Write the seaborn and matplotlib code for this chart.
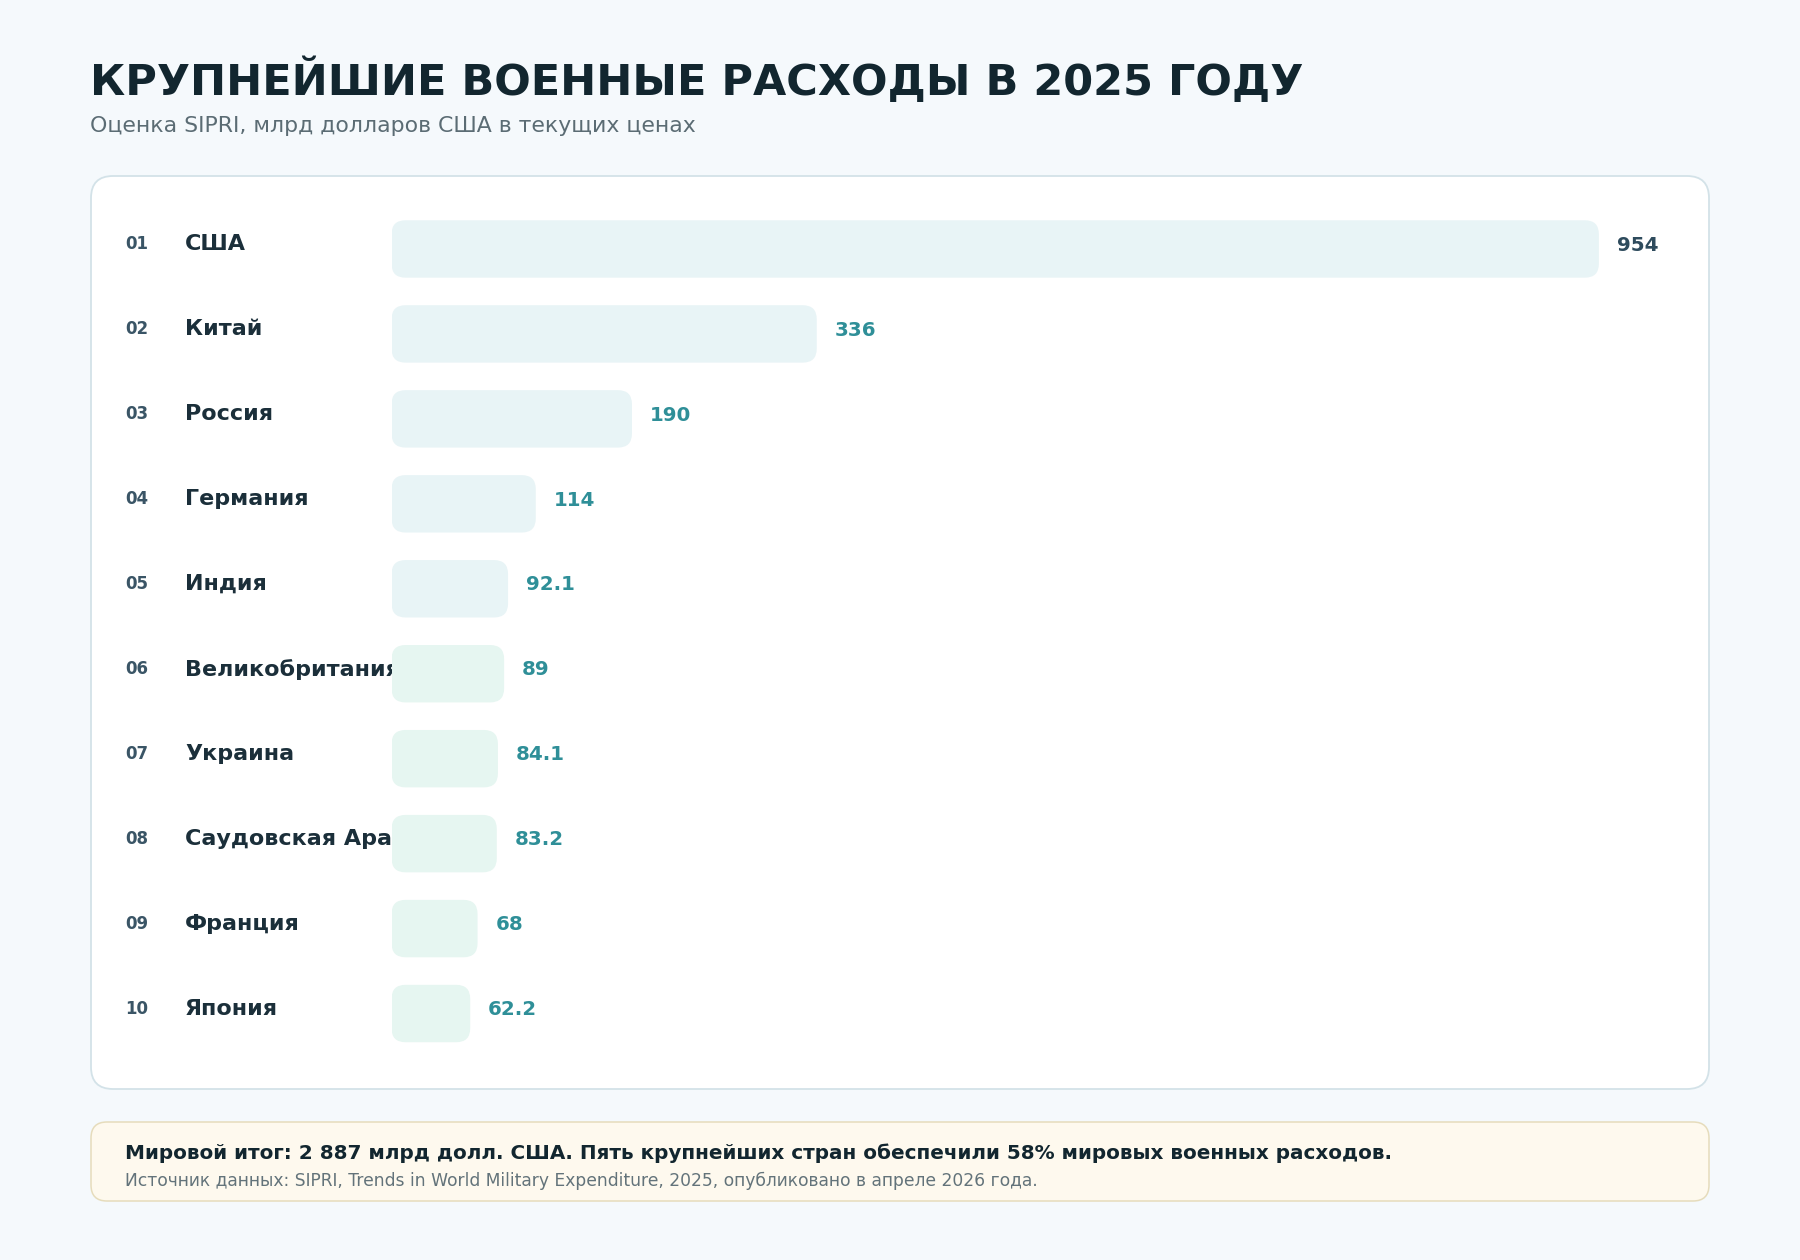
import matplotlib
matplotlib.use("Agg")
import matplotlib.pyplot as plt
import matplotlib.transforms as mtransforms
from matplotlib.patches import FancyBboxPatch, Rectangle
import seaborn as sns
import pandas as pd

ranks = ["01", "02", "03", "04", "05", "06", "07", "08", "09", "10"]
countries = ["США", "Китай", "Россия", "Германия", "Индия",
             "Великобритания", "Украина", "Саудовская Аравия", "Франция", "Япония"]
values = [954, 336, 190, 114, 92.1, 89, 84.1, 83.2, 68, 62.2]
groups = ["a", "a", "a", "a", "a", "b", "b", "b", "b", "b"]

title = "КРУПНЕЙШИЕ ВОЕННЫЕ РАСХОДЫ В 2025 ГОДУ"
subtitle = "Оценка SIPRI, млрд долларов США в текущих ценах"
note = "Мировой итог: 2 887 млрд долл. США. Пять крупнейших стран обеспечили 58% мировых военных расходов."
source = "Источник данных: SIPRI, Trends in World Military Expenditure, 2025, опубликовано в апреле 2026 года."

df = pd.DataFrame({"rank": ranks, "country": countries, "value": values, "group": groups})

sns.set_theme(style="white")
plt.rcParams["font.family"] = ["DejaVu Sans"]

BG = "#f5f9fc"
DARK = "#12262f"
NAME = "#1b2f3a"
RANK = "#3a5566"
TEAL = "#2f8f98"

W, H = 1800, 1260
fig = plt.figure(figsize=(18, 12.6), dpi=100, facecolor=BG)

# background layer in pixel coordinates
bg = fig.add_axes([0, 0, 1, 1], zorder=0)
bg.set_xlim(0, W)
bg.set_ylim(H, 0)
bg.axis("off")

card = FancyBboxPatch((91, 176), 1618, 913, boxstyle="round,pad=0,rounding_size=22",
                      facecolor="white", edgecolor="#d3e2e8", linewidth=1.3)
bg.add_patch(card)
foot = FancyBboxPatch((91, 1122), 1618, 79, boxstyle="round,pad=0,rounding_size=16",
                      facecolor="#fef9ee", edgecolor="#e6dcbc", linewidth=1.1)
bg.add_patch(foot)

bg.text(90, 81, title, fontsize=31, fontweight="bold", color=DARK, va="center", ha="left")
bg.text(90, 126, subtitle, fontsize=15.85, color="#5b6c74", va="center", ha="left")
bg.text(125, 1153, note, fontsize=14.4, fontweight="bold", color=DARK, va="center", ha="left")
bg.text(125, 1181, source, fontsize=12.3, color="#63737a", va="center", ha="left")

# bar area
left_px, right_px = 391.5, 1709
top_px, bot_px = 206.5, 1056
ax = fig.add_axes([left_px / W, 1 - bot_px / H, (right_px - left_px) / W, (bot_px - top_px) / H],
                  zorder=2)
ax.patch.set_alpha(0)

palette = {"a": "#e8f4f6", "b": "#e6f6f1"}
sns.barplot(data=df, x="value", y="country", hue="group", palette=palette, orient="h",
            width=0.676, legend=False, saturation=1, ax=ax)
ax.set_xlim(0, 1041)
ax.set_ylim(9.5, -0.5)
ax.axis("off")

# rounded bars built from seaborn's rectangles
px_per_x = (right_px - left_px) / 1041
px_per_y = (bot_px - top_px) / 10
r_px = 14
for bar in list(ax.patches):
    x0, y0 = bar.get_x(), bar.get_y()
    w, h = bar.get_width(), bar.get_height()
    fc = bar.get_facecolor()
    bar.remove()
    ax.add_patch(FancyBboxPatch((x0, y0), w, h,
                                boxstyle=f"round,pad=0,rounding_size={r_px / px_per_x}",
                                mutation_aspect=(1 / px_per_y) / (1 / px_per_x),
                                facecolor=fc, edgecolor="none", zorder=2))

# labels: x in pixels, y in row units
row_tf = mtransforms.blended_transform_factory(bg.transData, ax.transData)
clip = Rectangle((0, 0), left_px, H, transform=bg.transData)
dy = -0.055
for i, (rk, name, v) in enumerate(zip(ranks, countries, values)):
    bg.text(125, i + dy, rk, transform=row_tf, fontsize=12, fontweight="bold",
            color=RANK, va="center", ha="left")
    t = bg.text(185, i + dy, name, transform=row_tf, fontsize=16, fontweight="bold",
                color=NAME, va="center", ha="left")
    t.set_clip_path(clip)
    ax.annotate(f"{v:g}", xy=(v, i + dy + 0.01), xytext=(18, 0), textcoords="offset pixels",
                fontsize=14.3, fontweight="bold", color="#2e4b5d" if i == 0 else TEAL,
                va="center", ha="left", zorder=3)

fig.savefig("out.png", dpi=100, facecolor=BG)
